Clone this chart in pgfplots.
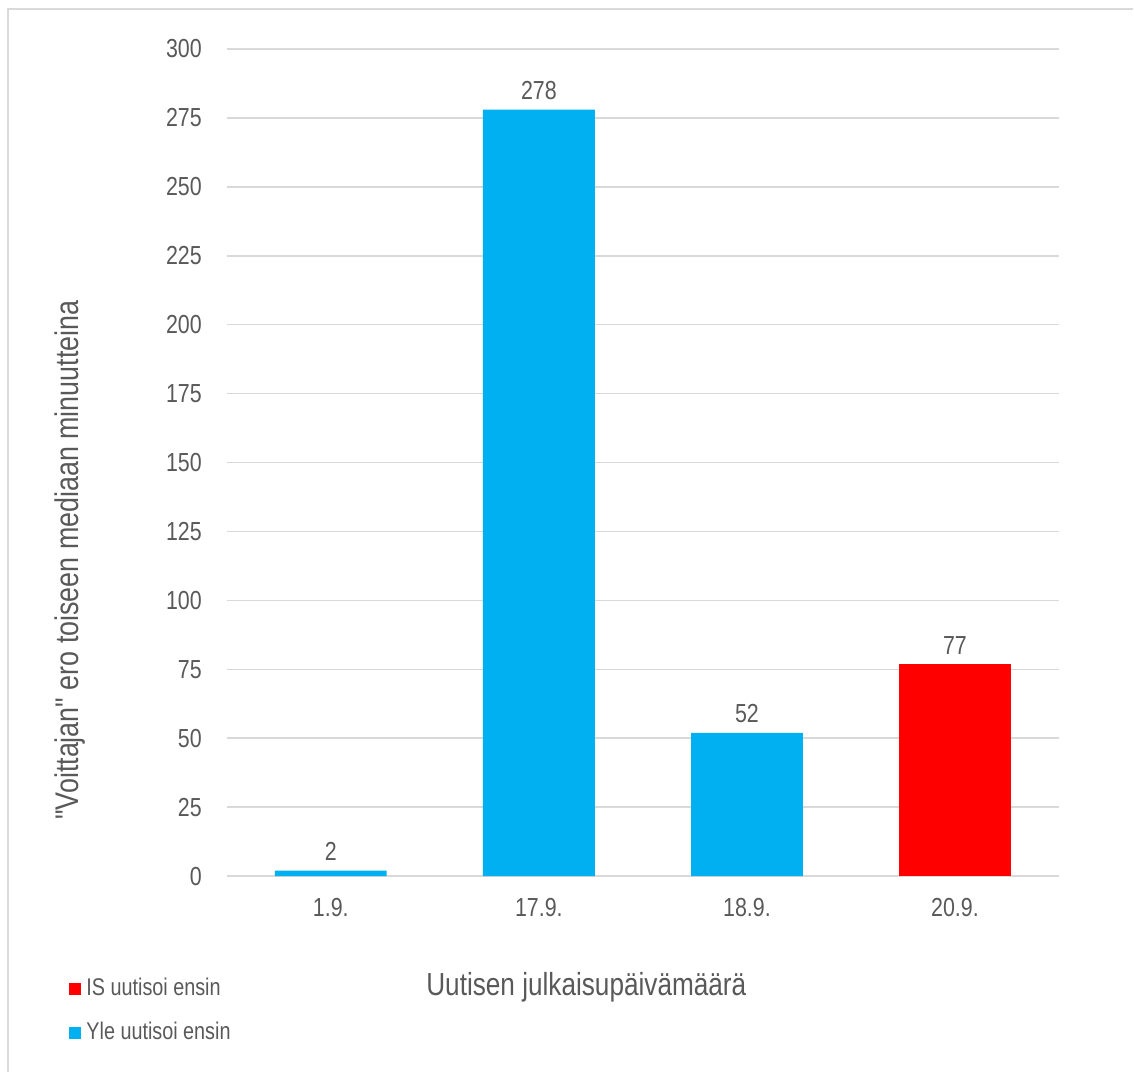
\documentclass[border=0pt]{standalone}
\usepackage{fontspec}
\setmainfont{Liberation Sans}[FakeStretch=0.82, Ligatures=TeXOff]
\usepackage{pgfplots}
\pgfplotsset{compat=1.18}
\definecolor{txt}{HTML}{595959}
\definecolor{gridc}{HTML}{D9D9D9}
\definecolor{yle}{HTML}{00B0F0}
\definecolor{is}{HTML}{FF0000}
\begin{document}
\begin{tikzpicture}
\path (-81.72pt,-70.56pt) rectangle (326.52pt,315.72pt);
\draw[gridc, line width=0.8pt] (-78.84pt,-70.56pt) -- (-78.84pt,312.48pt) -- (326.52pt,312.48pt);
\begin{axis}[
  scale only axis,
  width=299.9pt, height=298.1pt,
  ybar, bar width=40.3pt, bar shift=0pt,
  xmin=-0.5, xmax=3.5, ymin=0, ymax=300,
  xtick={0,1,2,3},
  xticklabels={1.9.,17.9.,18.9.,20.9.},
  ytick={0,25,...,300},
  major tick length=0pt,
  axis line style={draw=none},
  ymajorgrids, grid style={gridc, line width=0.6pt},
  /pgf/number format/assume math mode=true,
  tick label style={font=\fontsize{9.4}{11}\selectfont, text=txt},
  xticklabel style={yshift=-4.5pt},
  yticklabel style={xshift=-5.5pt},
  nodes near coords,
  every node near coord/.append style={font=\fontsize{9.4}{11}\selectfont, text=txt, /pgf/number format/assume math mode=true},
  xlabel={Uutisen julkaisupäivämäärä},
  ylabel={"Voittajan" ero toiseen mediaan minuutteina},
  label style={font=\fontsize{11.5}{13}\selectfont, text=txt},
  ylabel style={font=\fontsize{11.8}{13}\selectfont, at={(axis description cs:-0.188,0.382)}, anchor=center},
  xlabel style={at={(axis description cs:0.432,-0.134)}, anchor=center},
  legend style={at={(axis description cs:-0.190,-0.116)}, anchor=north west, draw=none, fill=none,
    font=\fontsize{8.7}{10}\selectfont, text=txt, row sep=4pt, inner sep=0pt,
    cells={anchor=west}},
  legend image code/.code={\fill (0pt,-2.1pt) rectangle (4.2pt,2.1pt);},
]
\addplot[fill=is, draw=none] coordinates {(3,77)};
\addlegendentry{IS uutisoi ensin}
\addplot[fill=yle, draw=none] coordinates {(0,2) (1,278) (2,52)};
\addlegendentry{Yle uutisoi ensin}
\end{axis}
\end{tikzpicture}
\end{document}
